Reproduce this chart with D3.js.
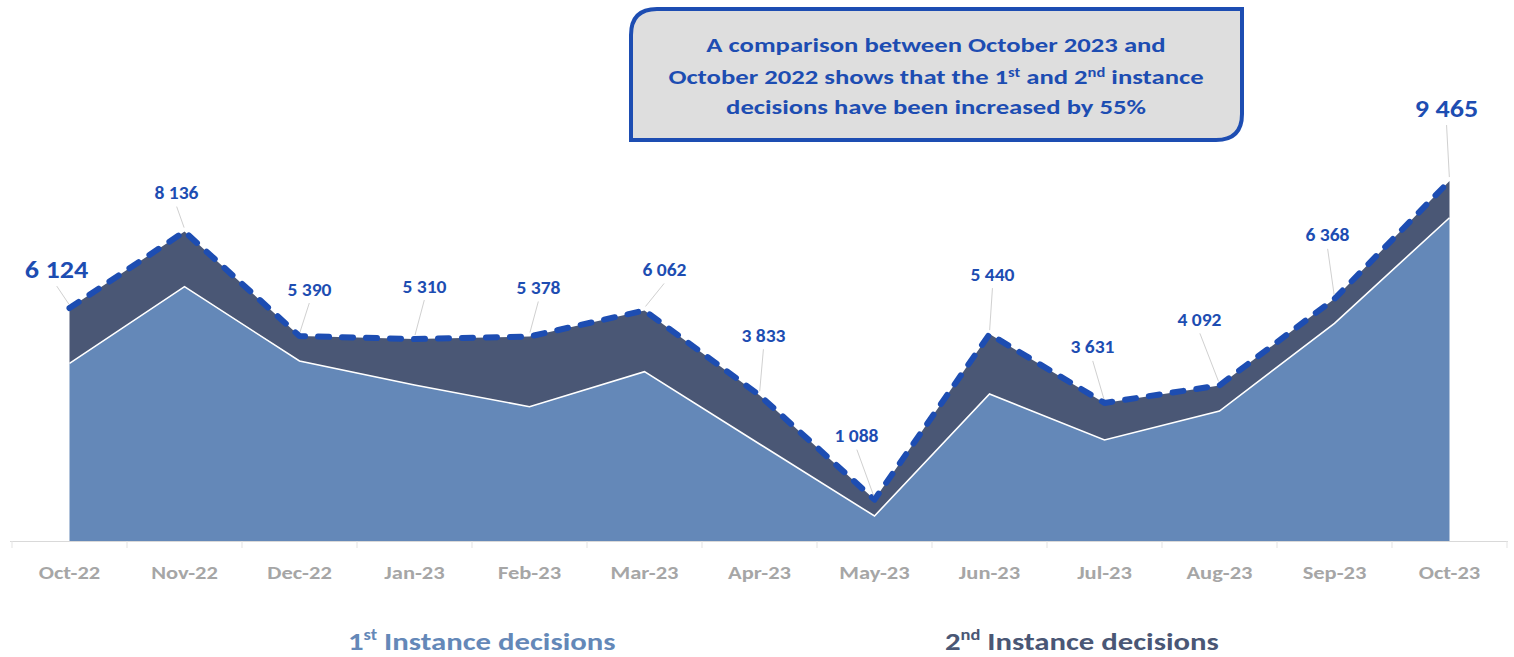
<!DOCTYPE html>
<html>
<head>
<meta charset="utf-8">
<script src="https://cdn.jsdelivr.net/npm/d3@7"></script>
<style>
  body { margin: 0; background: #fff; }
  svg { display: block; font-family: Carlito, Calibri, Lato, sans-serif; }
</style>
</head>
<body>
<svg id="chart"></svg>
<script>
document.addEventListener('DOMContentLoaded', function() {
    const width = 1514, height = 657;

    // Data
    const months = ['Oct-22', 'Nov-22', 'Dec-22', 'Jan-23', 'Feb-23', 'Mar-23', 'Apr-23',
                    'May-23', 'Jun-23', 'Jul-23', 'Aug-23', 'Sep-23', 'Oct-23'];
    const firstInstance = [4670, 6687, 4733, 4102, 3531, 4452, 2551, 657, 3865, 2656, 3418, 5724, 8501];
    const secondInstance = [1454, 1449, 657, 1208, 1847, 1610, 1282, 431, 1575, 975, 674, 644, 964];
    const seriesNames = ['1st Instance decisions', '2nd Instance decisions'];

    // label offsets from the point (px), how the labels sit in the picture
    const labelDx = [-13, -8, 10, 10, 9, 20, 4, -18, 3, -12, -20, -7, -3];
    const labelDy = [-38, -38, -46, -52, -48, -40, -59, -63, -59, -55, -65, -63, -72];

    const lightBlue = '#6488b8';
    const darkBlue = '#4a5775';
    const lineBlue = '#1d4db2';
    const stretch = 1.2; // the reference text is wider than the fonts we have

    const rows = months.map((m, i) => ({ month: m, first: firstInstance[i], second: secondInstance[i] }));
    const stacked = d3.stack().keys(['first', 'second'])(rows);

    const svg = d3.select('#chart').attr('width', width).attr('height', height);

    const x = d3.scaleBand().domain(months).range([12, 1507]).paddingInner(0).paddingOuter(0);
    const cx = m => x(m) + x.bandwidth() / 2;
    const y = d3.scaleLinear().domain([0, 14226]).range([541, 0]);

    function wideText(parent, tx, ty, sx) {
        return parent.append('text')
            .attr('transform', `translate(${tx},${ty}) scale(${sx},1)`);
    }

    const area = d3.area()
        .x(d => cx(d.data.month))
        .y0(d => y(d[0]))
        .y1(d => y(d[1]));

    svg.append('g').selectAll('path')
        .data(stacked)
        .join('path')
        .attr('d', area)
        .attr('fill', (d, i) => i === 0 ? lightBlue : darkBlue);

    // white edge on top of the 1st instance area
    svg.append('path')
        .attr('d', d3.line().x(d => cx(d.data.month)).y(d => y(d[1]))(stacked[0]))
        .attr('fill', 'none')
        .attr('stroke', '#fff')
        .attr('stroke-width', 1.6);

    // axis
    const axisG = svg.append('g').attr('transform', `translate(0,${y(0)})`);
    axisG.call(d3.axisBottom(x).tickSize(0).tickPadding(0))
        .call(g => g.select('.domain').attr('stroke', '#d9d9d9').attr('d', 'M10,0.5H1508'));
    axisG.selectAll('.tick text')
        .attr('y', 38.5)
        .attr('dy', 0)
        .attr('transform', `scale(${stretch + 0.05},1)`)
        .attr('fill', '#a6a6a6')
        .attr('font-weight', 'bold')
        .style('font-size', '18px')
        .style('font-family', 'Carlito, Calibri, Lato, sans-serif');
    const edges = months.map(m => x(m)).concat([x(months[months.length - 1]) + x.bandwidth()]);
    axisG.selectAll('.edge')
        .data(edges)
        .join('line')
        .attr('class', 'edge')
        .attr('x1', d => d).attr('x2', d => d)
        .attr('y1', 0).attr('y2', 7)
        .attr('stroke', '#e3e3e3');

    // total line
    const totals = stacked[1];
    svg.append('path')
        .attr('d', d3.line().x(d => cx(d.data.month)).y(d => y(d[1]))(totals))
        .attr('fill', 'none')
        .attr('stroke', lineBlue)
        .attr('stroke-width', 6)
        .attr('stroke-linecap', 'round')
        .attr('stroke-linejoin', 'round')
        .attr('stroke-dasharray', '11 13');

    // labels with leader lines
    const fmt = v => d3.format(',')(v).replace(/,/g, ' ');
    const labels = svg.append('g');
    totals.forEach((d, i) => {
        const px = cx(d.data.month), py = y(d[1]);
        const lx = px + labelDx[i], ly = py + labelDy[i];
        const big = i === 0 || i === totals.length - 1;
        labels.append('line')
            .attr('x1', lx + (px - lx) * 0.02).attr('y1', ly + (big ? 16 : 13))
            .attr('x2', px - (px - lx) * 0.05).attr('y2', py - 4)
            .attr('stroke', '#d0d0d0')
            .attr('stroke-width', 1);
        wideText(labels, lx, ly, big ? 1.17 : 1.15)
            .attr('text-anchor', 'middle')
            .attr('dominant-baseline', 'central')
            .attr('fill', lineBlue)
            .attr('font-weight', 'bold')
            .style('font-size', big ? '24px' : '17px')
            .text(fmt(d[1]));
    });

    // annotation box: rounded top-left and bottom-right corners
    const bx0 = 631, by0 = 9, bx1 = 1242, by1 = 140, r = 26;
    svg.append('path')
        .attr('d', `M${bx0},${by0 + r} Q${bx0},${by0} ${bx0 + r},${by0} H${bx1} V${by1 - r} Q${bx1},${by1} ${bx1 - r},${by1} H${bx0} Z`)
        .attr('fill', '#dedede')
        .attr('stroke', lineBlue)
        .attr('stroke-width', 4);

    const note = wideText(svg, 936, 0, 1.27)
        .attr('text-anchor', 'middle')
        .attr('fill', lineBlue)
        .attr('font-weight', 'bold')
        .style('font-size', '21px');
    note.append('tspan').attr('x', 0).attr('y', 52).text('A comparison between  October 2023 and');
    const l2 = note.append('tspan').attr('x', 0).attr('y', 84);
    l2.append('tspan').text('October 2022 shows that  the 1');
    l2.append('tspan').attr('dy', -7).style('font-size', '13px').text('st');
    l2.append('tspan').attr('dy', 7).text(' and 2');
    l2.append('tspan').attr('dy', -7).style('font-size', '13px').text('nd');
    l2.append('tspan').attr('dy', 7).text(' instance');
    note.append('tspan').attr('x', 0).attr('y', 114).text('decisions have been increased by 55%');

    // legend
    const legendX = [348, 945];
    const legendColors = [lightBlue, darkBlue];
    seriesNames.forEach((name, i) => {
        const t = wideText(svg, legendX[i], 650, 1.23)
            .attr('fill', legendColors[i])
            .attr('font-weight', 'bold')
            .style('font-size', '25px');
        const num = name.slice(0, 1), sup = name.slice(1, 3), rest = name.slice(3);
        t.append('tspan').text(num);
        t.append('tspan').attr('dy', -10).style('font-size', '15px').text(sup);
        t.append('tspan').attr('dy', 10).text(rest);
    });
});
</script>
</body>
</html>
